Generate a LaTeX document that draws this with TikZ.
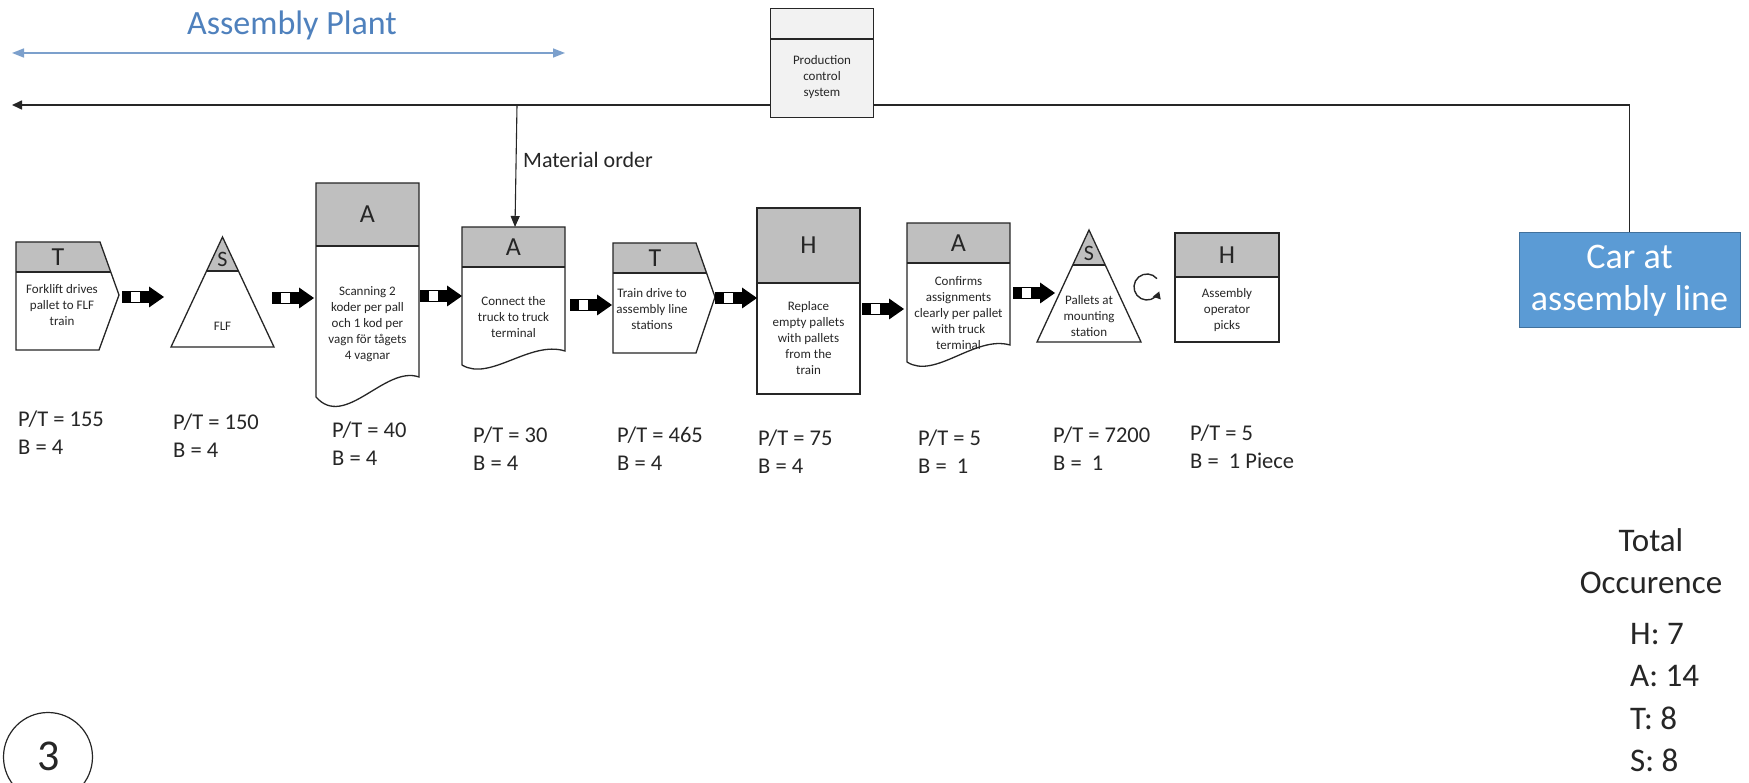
\documentclass[tikz,border=0pt]{standalone}
\usepackage{fontspec}
\setmainfont{Carlito}
\usetikzlibrary{arrows.meta}

\definecolor{hdrgray}{RGB}{191,191,191}
\definecolor{pcsfill}{RGB}{242,242,242}
\definecolor{carblue}{RGB}{91,155,213}
\definecolor{carborder}{RGB}{65,113,156}
\definecolor{plantblue}{RGB}{79,129,189}
\definecolor{plantline}{RGB}{124,160,204}
\definecolor{ink}{RGB}{38,38,38}

\newcommand{\fsz}[2]{\fontsize{#1}{#2}\selectfont}

\tikzset{
  outline/.style={draw=ink, line width=1.3pt, line join=miter},
  boxtext/.style={align=center, inner sep=0pt, text=ink, font=\fsz{13}{16}},
  hdrletter/.style={inner sep=0pt, text=ink, font=\fsz{26}{30}},
  stockletter/.style={inner sep=0pt, text=ink, font=\fsz{22}{26}},
  metrics/.style={anchor=west, align=left, inner sep=0pt, text=ink, font=\fsz{22.5}{28}},
  ctl/.style={draw=ink, line width=1.6pt},
  orderline/.style={draw=ink, line width=1.1pt},
  pics/pusharrow/.style={code={
    \fill[black] (0,-5.5) rectangle (9,5.5);
    \fill[white] (9,-5.5) rectangle (18,5.5);
    \fill[black] (18,-5.5) rectangle (27,5.5);
    \draw[black, line width=1pt] (0,-5.5) rectangle (27,5.5);
    \fill[black] (27,-10.5) -- (42,0) -- (27,10.5) -- cycle;
  }},
}

\begin{document}
\begin{tikzpicture}[x=1pt, y=-1pt]
\useasboundingbox (0,0) rectangle (1749,783);
\fill[white] (0,0) rectangle (1749,783);

% ---- plant span ----
\node[inner sep=0pt, text=plantblue, font=\fsz{34}{40}] (plant) at (292,25) {Assembly Plant};
\coordinate (plL) at (12,53);
\coordinate (plR) at (565,53);
\draw[draw=plantline, line width=1.6pt,
      {Triangle[length=12,width=9]}-{Triangle[length=12,width=9]}] (plL) -- (plR);

% ---- production control system ----
\node[outline, fill=pcsfill, minimum width=103, minimum height=109, inner sep=0pt,
      anchor=north west] (pcs) at (770,8) {};
\draw[outline] (770,39) -- (873,39);
\node[boxtext] (pcstxt) at (822,77) {Production\\control\\system};

% ---- car at assembly line ----
\node[fill=carblue, draw=carborder, line width=1pt, minimum width=221, minimum height=95,
      inner sep=0pt, text=white, align=center, font=\fsz{36}{42}] (car) at (1629.5,280.5)
      {Car at\\assembly line};

% ---- information flow ----
\coordinate (pcsL) at (770,105);
\coordinate (pcsR) at (873,105);
\coordinate (ctlend) at (12,105);
\coordinate (mo) at (517,105);
\coordinate (a2top) at (515,227);
\draw[ctl, -{Triangle[length=10,width=9]}] (pcsL) -- (ctlend);
\draw[ctl] (pcsR) -| (car.north);
\draw[orderline, -{Triangle[length=11,width=9]}] (mo) -- (a2top);
\node[anchor=west, inner sep=0pt, text=ink, font=\fsz{22}{26}] (motxt) at (523,160) {Material order};

% ---- T1: forklift transport ----
\fill[hdrgray] (16,242) -- (100,242) -- (110.8,272) -- (16,272) -- cycle;
\draw[outline] (16,242) -- (100,242) -- (119,295) -- (99,350) -- (16,350) -- cycle;
\draw[outline] (16,272) -- (110.8,272);
\node[hdrletter] (t1h) at (58,257) {T};
\node[boxtext] (t1) at (62,305) {Forklift drives\\pallet to FLF\\train};

% ---- S1: FLF stock ----
\fill[hdrgray] (222.5,237) -- (238.4,271) -- (206.6,271) -- cycle;
\draw[outline] (222.5,237) -- (274,347) -- (171,347) -- cycle;
\draw[outline] (206.6,271) -- (238.4,271);
\node[stockletter] (s1h) at (222.5,259) {S};
\node[boxtext] (s1) at (222.5,326) {FLF};

% ---- A1: scanning ----
\fill[hdrgray] (316,183) rectangle (419,246);
\draw[outline] (316,183) -- (419,183) -- (419,377)
   .. controls (385,365) and (345,430) .. (316,397) -- cycle;
\draw[outline] (316,246) -- (419,246);
\node[hdrletter] (a1h) at (367.5,214.5) {A};
\node[boxtext] (a1) at (367.5,324) {Scanning 2\\koder per pall\\och 1 kod per\\vagn för tågets\\4 vagnar};

% ---- A2: connect truck ----
\fill[hdrgray] (462,227) rectangle (565,267);
\draw[outline] (462,227) -- (565,227) -- (565,351)
   .. controls (530,340) and (490,382) .. (462,365) -- cycle;
\draw[outline] (462,267) -- (565,267);
\node[hdrletter] (a2h) at (513.5,247) {A};
\node[boxtext] (a2) at (513.5,317) {Connect the\\truck to truck\\terminal};

% ---- T2: train transport ----
\fill[hdrgray] (613,243) -- (696,243) -- (706.6,273) -- (613,273) -- cycle;
\draw[outline] (613,243) -- (696,243) -- (715,297) -- (696,353) -- (613,353) -- cycle;
\draw[outline] (613,273) -- (706.6,273);
\node[hdrletter] (t2h) at (655,258) {T};
\node[boxtext] (t2) at (652,309) {Train drive to\\assembly line\\stations};

% ---- H1: replace pallets ----
\fill[hdrgray] (757,208) rectangle (860,283);
\draw[outline] (757,208) rectangle (860,394);
\draw[outline] (757,283) -- (860,283);
\node[hdrletter] (h1h) at (808.5,245.5) {H};
\node[boxtext] (h1) at (808.5,338) {Replace\\empty pallets\\with pallets\\from the\\train};

% ---- A3: confirm assignments ----
\fill[hdrgray] (907,223) rectangle (1010,263);
\draw[outline] (907,223) -- (1010,223) -- (1010,345)
   .. controls (975,335) and (935,380) .. (907,362) -- cycle;
\draw[outline] (907,263) -- (1010,263);
\node[hdrletter] (a3h) at (958.5,243) {A};
\node[boxtext] (a3) at (958.5,313) {Confirms\\assignments\\clearly per pallet\\with truck\\terminal};

% ---- S2: pallets at mounting station ----
\fill[hdrgray] (1089,230) -- (1105.3,265) -- (1072.7,265) -- cycle;
\draw[outline] (1089,230) -- (1141,342) -- (1037,342) -- cycle;
\draw[outline] (1072.7,265) -- (1105.3,265);
\node[stockletter] (s2h) at (1089,253) {S};
\node[boxtext] (s2) at (1089,316) {Pallets at\\mounting\\station};

% ---- cycle mark ----
\draw[draw=ink, line width=1.4pt, -{Triangle[length=7,width=8]}]
  (1147,287) ++(-40:13) arc[start angle=-40, end angle=-340, radius=13];

% ---- H2: operator picks ----
\fill[hdrgray] (1175,233) rectangle (1279,277);
\draw[outline] (1175,233) rectangle (1279,342);
\draw[outline] (1175,277) -- (1279,277);
\node[hdrletter] (h2h) at (1227,255) {H};
\node[boxtext] (h2) at (1227,310) {Assembly\\operator\\picks};

% ---- push arrows ----
\pic at (122,297) {pusharrow};
\pic at (272,298) {pusharrow};
\pic at (420,296) {pusharrow};
\pic at (570,305) {pusharrow};
\pic at (715,298) {pusharrow};
\pic at (862,309) {pusharrow};
\pic at (1013,293) {pusharrow};

% ---- process data ----
\node[metrics] (m1) at (18,433) {P/T = 155\\B = 4};
\node[metrics] (m2) at (173,436) {P/T = 150\\B = 4};
\node[metrics] (m3) at (332,444) {P/T = 40\\B = 4};
\node[metrics] (m4) at (473,449) {P/T = 30\\B = 4};
\node[metrics] (m5) at (617,449) {P/T = 465\\B = 4};
\node[metrics] (m6) at (758,452) {P/T = 75\\B = 4};
\node[metrics] (m7) at (918,452) {P/T = 5\\B =~~1};
\node[metrics] (m8) at (1053,449) {P/T = 7200\\B =~~1};
\node[metrics] (m9) at (1190,447) {P/T = 5\\B =~~1 Piece};

% ---- totals ----
\node[inner sep=0pt, text=ink, align=center, font=\fsz{33}{42}] (total) at (1651,561) {Total\\Occurence};
\node[anchor=north west, inner sep=0pt, text=ink, align=left, font=\fsz{33}{42.5}] (counts)
  at (1630,623) {H: 7\\A: 14\\T: 8\\S: 8};

% ---- page marker ----
\node[draw=ink, line width=1.2pt, circle, minimum size=89, inner sep=0pt] (pagecircle) at (48,757) {};
\node[inner sep=0pt, text=ink, font=\fsz{44}{48}] (pagenum) at (49,756) {3};
\end{tikzpicture}
\end{document}
